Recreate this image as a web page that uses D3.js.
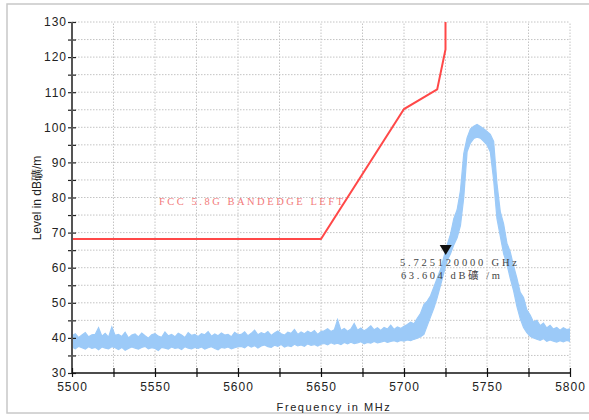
<!DOCTYPE html>
<html><head><meta charset="utf-8">
<script src="https://cdn.jsdelivr.net/npm/d3@7"></script>
<style>body{margin:0;background:#fff}svg{display:block}</style>
</head><body>
<script>
// ---- data ----
const xTicks = [5500,5550,5600,5650,5700,5750,5800];
const yTicks = [30,40,50,60,70,80,90,100,110,120,130];
const limitFreq = [5500,5650,5700,5720,5725,5725];
const limitLevel = [68.2,68.2,105.2,110.8,122.2,140];
const limitLabel = "FCC 5.8G BANDEDGE LEFT";
// measured trace, sampled every 2 MHz from 5500 to 5800: upper and lower envelope (dBµV/m)
const traceHi = [40.6,41.2,40.1,40.8,41.5,40.3,40.9,41.0,42.9,40.5,41.3,40.2,43.1,40.7,41.0,40.4,41.6,40.0,40.8,41.1,40.3,41.4,40.6,39.9,40.9,41.2,40.5,40.2,41.7,40.6,41.0,40.3,41.3,40.8,40.1,41.5,40.7,41.0,40.4,41.2,40.9,41.8,40.5,41.1,40.6,41.4,40.8,41.0,40.3,41.6,40.9,
 41.0,41.7,40.6,41.3,42.2,40.9,41.5,41.1,41.8,40.7,41.4,42.0,41.2,40.8,41.6,41.3,42.4,41.0,41.7,41.2,41.9,41.4,42.1,41.0,41.8,
 42.0,42.6,41.8,42.3,45.2,42.1,42.7,41.9,42.5,44.1,42.2,42.8,42.0,42.6,43.4,42.3,42.9,42.1,43.0,42.5,43.6,42.4,43.1,42.7,43.3,
 43.8,44.5,44.0,45.6,47.0,49.5,50.5,52.0,54.5,57.0,59.5,63.0,66.5,69.5,74.0,76.5,82.0,92.5,97.0,99.5,100.3,100.8,100.2,99.6,98.8,98.0,96.0,84.0,76.0,72.5,67.0,64.5,60.5,57.0,53.0,51.5,48.0,46.5,44.5,45.0,43.5,44.2,42.8,43.6,42.5,43.0,42.2,42.9,42.4,42.6];
const traceLo = [37.4,36.9,37.6,37.2,36.8,37.5,37.0,37.3,36.6,37.4,37.1,36.9,37.5,37.2,36.7,37.3,36.5,37.0,37.4,37.1,36.8,37.3,37.6,36.9,37.2,37.0,36.4,37.3,37.1,36.8,37.4,37.0,37.2,36.7,37.5,37.1,36.9,37.3,37.0,37.4,36.8,37.2,37.5,37.0,36.6,37.3,37.1,37.4,36.9,37.2,37.5,
 37.6,37.2,37.9,37.4,37.8,37.1,37.7,38.0,37.5,37.3,37.9,37.6,38.1,37.4,37.8,37.5,38.2,37.7,38.0,37.6,38.3,37.9,38.1,37.7,38.2,
 38.4,38.0,38.6,38.2,38.5,38.1,38.7,38.3,38.8,38.4,38.6,38.9,38.3,38.7,38.5,39.0,38.6,38.8,39.1,38.7,39.0,39.2,38.9,39.3,39.1,
 39.4,39.2,39.6,39.9,40.3,41.0,43.5,46.0,48.5,51.5,55.0,58.5,62.0,64.0,66.5,68.5,72.0,80.0,93.0,95.5,96.8,97.2,96.9,96.0,95.0,93.0,85.0,74.0,69.0,64.0,61.0,57.0,53.5,49.0,45.5,43.0,41.5,40.5,40.0,39.6,39.3,39.8,39.0,39.4,39.1,38.8,39.2,38.9,39.3,39.0];
const markerFreq = 5725.12;
const markerLevel = 63.604;
const markerText = ["5.725120000 GHz", "63.604 dB礦 /m"];
const xTitle = "Frequency in MHz";
const yTitle = "Level in dB礦/m";

// ---- chart ----
const W = 589, H = 420;
const svg = d3.select("body").append("svg").attr("width", W).attr("height", H);
const x = d3.scaleLinear().domain([5500,5800]).range([72,570]);
const y = d3.scaleLinear().domain([30,130]).range([373,22]);

// frame
svg.append("rect").attr("x",7).attr("y",4).attr("width",620).attr("height",409)
  .attr("fill","#fff").attr("stroke","#c8c8c8").attr("stroke-width",1.5);

// grid
const g = svg.append("g");
g.selectAll(".hg").data(d3.range(35,131,5)).join("line")
  .attr("x1",x(5500)).attr("x2",x(5800)).attr("y1",d=>y(d)).attr("y2",d=>y(d))
  .attr("stroke","#c4c4c4").attr("stroke-dasharray","1.5,1.5");
g.selectAll(".vg").data(d3.range(5525,5801,25)).join("line")
  .attr("x1",d=>x(d)).attr("x2",d=>x(d)).attr("y1",y(30)).attr("y2",y(130))
  .attr("stroke","#c4c4c4").attr("stroke-dasharray","1.5,1.5");

// clip
svg.append("clipPath").attr("id","pc").append("rect")
  .attr("x",x(5500)).attr("y",y(130)).attr("width",x(5800)-x(5500)).attr("height",y(30)-y(130));

// trace
const freqs = traceHi.map((_,i)=>5500+2*i);
const area = d3.area().x((d,i)=>x(freqs[i])).y0((d,i)=>y(traceLo[i])).y1((d,i)=>y(traceHi[i]));
svg.append("path").datum(traceHi).attr("d",area).attr("clip-path","url(#pc)")
  .attr("fill","#9ccaf8").attr("stroke","#9ccaf8").attr("stroke-width",1.2);

// limit line
const lim = limitFreq.map((f,i)=>[f,limitLevel[i]]);
svg.append("path").datum(lim).attr("clip-path","url(#pc)")
  .attr("d",d3.line().x(d=>x(d[0])).y(d=>y(d[1])))
  .attr("fill","none").attr("stroke","#ff4848").attr("stroke-width",2);

svg.append("text").attr("x",159).attr("y",205).text(limitLabel)
  .attr("font-family","'Liberation Serif','DejaVu Serif',serif").attr("font-size",10.5)
  .attr("fill","#f27a7a").attr("textLength",184).attr("lengthAdjust","spacing");

// y axis
const ya = svg.append("g").attr("transform",`translate(${x(5500)},0)`)
  .call(d3.axisLeft(y).tickValues(d3.range(30,131,5)).tickSize(4)
    .tickFormat(d=> d%10===0 ? d : ""));
ya.select(".domain").remove();
ya.selectAll(".tick line").attr("x1",-4).attr("x2",4).attr("stroke","#222").attr("stroke-width",1.2);
ya.selectAll(".tick text").attr("x",-5).attr("font-family","'Liberation Sans',Arial,sans-serif")
  .attr("font-size",12).attr("letter-spacing","1px").attr("fill","#222");
svg.append("line").attr("x1",x(5500)).attr("x2",x(5500)).attr("y1",y(130)).attr("y2",y(30))
  .attr("stroke","#555").attr("stroke-width",2);

// x axis
const xa = svg.append("g").attr("transform",`translate(0,${y(30)})`)
  .call(d3.axisBottom(x).tickValues(d3.range(5500,5801,25)).tickSize(4)
    .tickFormat(d=> d%50===0 ? d : ""));
xa.select(".domain").remove();
xa.selectAll(".tick line").attr("y1",-5).attr("y2",4).attr("stroke","#111").attr("stroke-width",1.2);
xa.selectAll(".tick text").attr("y",9).attr("font-family","'Liberation Sans',Arial,sans-serif")
  .attr("font-size",12).attr("letter-spacing","1px").attr("fill","#222");
svg.append("line").attr("x1",x(5500)).attr("x2",x(5800)).attr("y1",y(30)).attr("y2",y(30))
  .attr("stroke","#111").attr("stroke-width",1.5);

// titles
svg.append("text").attr("x",334).attr("y",411).attr("text-anchor","middle").text(xTitle)
  .attr("font-family","'Liberation Sans',Arial,sans-serif").attr("font-size",11)
  .attr("letter-spacing","1.6px").attr("fill","#222");
svg.append("text").attr("transform","translate(41,198) rotate(-90)").attr("text-anchor","middle")
  .text(yTitle).attr("font-family","'Liberation Sans',Arial,sans-serif").attr("font-size",12)
  .attr("fill","#222");

// marker
const mx = x(markerFreq), my = y(markerLevel);
svg.append("path").attr("d",`M${mx-6},${my-10}L${mx+6},${my-10}L${mx},${my}Z`).attr("fill","#111");
svg.append("text").attr("x",400).attr("y",266).text(markerText[0])
  .attr("font-family","'Liberation Serif','DejaVu Serif',serif").attr("font-size",10.5)
  .attr("fill","#444").attr("textLength",117).attr("lengthAdjust","spacing");
svg.append("text").attr("x",401).attr("y",279).text(markerText[1])
  .attr("font-family","'Liberation Serif','Noto Sans CJK SC',serif").attr("font-size",10.5)
  .attr("fill","#444").attr("textLength",99).attr("lengthAdjust","spacing");
</script>
</body></html>
